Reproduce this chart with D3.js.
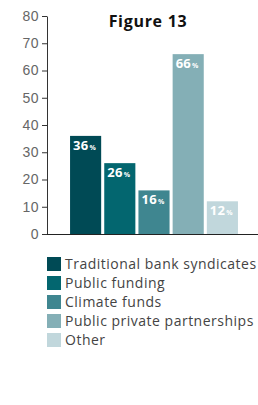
<!DOCTYPE html>
<html>
<head>
<meta charset="utf-8">
<script src="https://cdn.jsdelivr.net/npm/d3@7"></script>
<style>
  body { margin: 0; background: #fff; }
  svg { display: block; font-family: "Open Sans", sans-serif; }
</style>
</head>
<body>
<svg id="chart"></svg>
<script>
const categories = ["Traditional bank syndicates", "Public funding", "Climate funds", "Public private partnerships", "Other"];
const values = [36, 26, 16, 66, 12];
const colors = ["#004a55", "#03666f", "#3f8690", "#84afb6", "#c1d7dc"];
const yTicks = [0, 10, 20, 30, 40, 50, 60, 70, 80];

const width = 258;
const height = 405;
const marginLeft = 47;
const marginTop = 16;
const plotBottom = 234;

const svg = d3.select("#chart")
  .attr("width", width)
  .attr("height", height);

// шкалы
const x = d3.scaleBand()
  .domain(categories)
  .range([68, 240])
  .paddingInner(0.09)
  .paddingOuter(0.06);
const y = d3.scaleLinear([0, 80], [plotBottom, marginTop]);

// ось Y
const yAxis = svg.append("g")
  .attr("transform", `translate(${marginLeft},0)`)
  .call(d3.axisLeft(y).tickValues(yTicks).tickSize(5).tickSizeOuter(0).tickPadding(3));
yAxis.select(".domain").attr("stroke", "#333");
yAxis.selectAll(".tick line").attr("stroke", "#333");
yAxis.selectAll(".tick text")
  .attr("fill", "#666")
  .style("font-size", "14px")
  .style("letter-spacing", "0.5px");

// ось X (только линия)
svg.append("line")
  .attr("x1", marginLeft).attr("x2", width)
  .attr("y1", plotBottom + 0.5).attr("y2", plotBottom + 0.5)
  .attr("stroke", "#222");

// заголовок
svg.append("text")
  .attr("x", 148).attr("y", 27)
  .attr("text-anchor", "middle")
  .attr("fill", "#111")
  .style("font-size", "16px")
  .style("font-weight", "bold")
  .style("letter-spacing", "0.7px")
  .text("Figure 13");

// столбцы
const bars = svg.append("g");
bars.selectAll("rect")
  .data(values)
  .join("rect")
  .attr("x", (d, i) => x(categories[i]))
  .attr("y", d => y(d))
  .attr("width", x.bandwidth())
  .attr("height", d => y(0) - y(d))
  .attr("fill", (d, i) => colors[i]);

const lbl = bars.selectAll(".val")
  .data(values)
  .join("text")
  .attr("class", "val")
  .attr("x", (d, i) => x(categories[i]) + 3)
  .attr("y", d => y(d) + 14)
  .attr("fill", "#fff")
  .style("font-weight", "bold")
  .style("font-size", "13px")
  .style("letter-spacing", "0.3px");
lbl.append("tspan").text(d => d);
lbl.append("tspan").style("font-size", "7px").attr("dx", 1).text("%");

// легенда
const legend = svg.append("g").attr("transform", "translate(47,257)");
const row = legend.selectAll("g")
  .data(categories)
  .join("g")
  .attr("transform", (d, i) => `translate(0,${i * 19})`);
row.append("rect")
  .attr("width", 14).attr("height", 14)
  .attr("fill", (d, i) => colors[i]);
row.append("text")
  .attr("x", 18).attr("y", 12)
  .attr("fill", "#444")
  .style("font-size", "14px")
  .style("letter-spacing", "0.5px")
  .text(d => d);
</script>
</body>
</html>
